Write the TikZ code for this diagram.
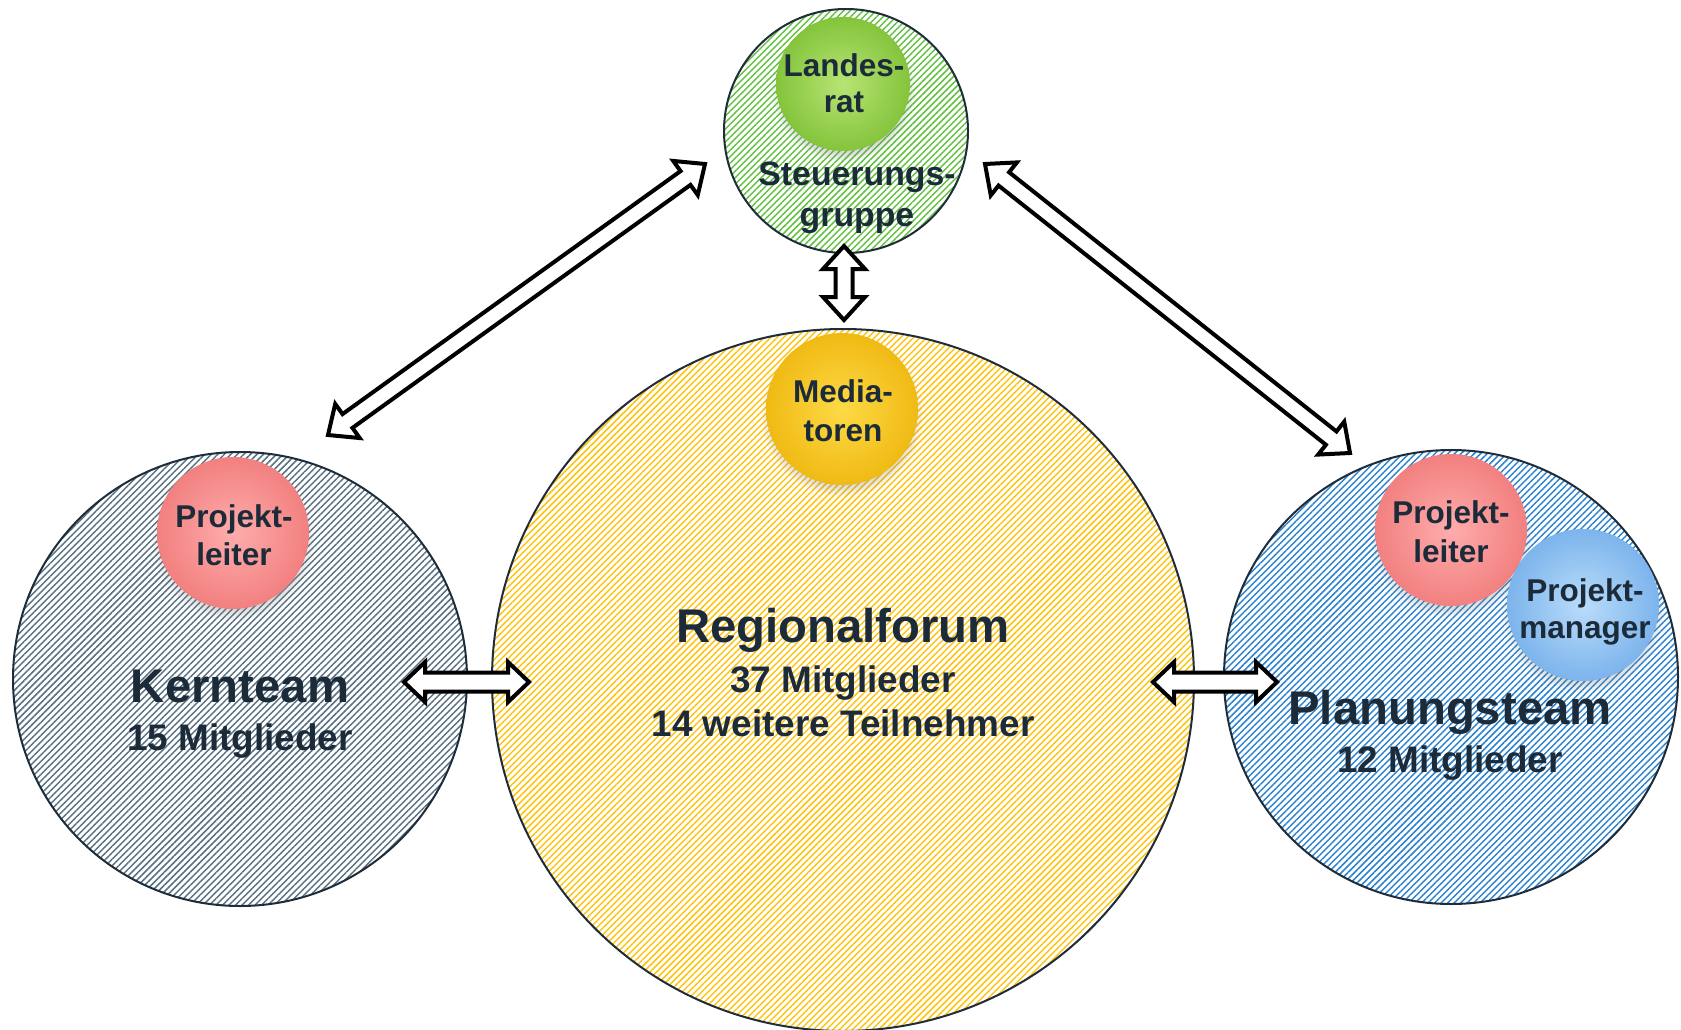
\documentclass[tikz,border=0pt]{standalone}
\usepackage{fontspec}
\setmainfont{Liberation Sans}
\usetikzlibrary{calc,patterns.meta,shadows,fadings}
\definecolor{txt}{HTML}{1C2B39}
\definecolor{edge}{HTML}{1F2D3A}
\definecolor{kernS}{HTML}{587080}
\definecolor{regS}{HTML}{FFC20E}
\definecolor{planS}{HTML}{2C82CC}
\definecolor{steuS}{HTML}{62C040}
\newcommand\dblarrow[5]{%
  \draw[blockarrow] (#1)
    -- ($(#1)!#3!(#2)!#4!90:(#2)$) -- ($(#1)!#3!(#2)!#5!90:(#2)$)
    -- ($(#2)!#3!(#1)!#5!-90:(#1)$) -- ($(#2)!#3!(#1)!#4!-90:(#1)$)
    -- (#2)
    -- ($(#2)!#3!(#1)!#4!90:(#1)$) -- ($(#2)!#3!(#1)!#5!90:(#1)$)
    -- ($(#1)!#3!(#2)!#5!-90:(#2)$) -- ($(#1)!#3!(#2)!#4!-90:(#2)$)
    -- cycle;}
\tikzset{
  group/.style={circle, draw=edge, line width=2pt, inner sep=0pt, minimum size=#1},
  hatch/.style={pattern={Lines[angle=45,distance=4.6pt,line width=1.45pt]}, pattern color=#1},
  bubble/.style={circle, inner sep=0pt, minimum size=#1,
    circular drop shadow={shadow xshift=0pt, shadow yshift=-6pt, shadow scale=1.07, opacity=0.3}},
  blockarrow/.style={draw=black, fill=white, line width=4pt, line join=miter},
  lbl/.style={anchor=base, inner sep=0pt, text=txt, font=\bfseries\fontsize{31.5}{36}\selectfont},
  big/.style={lbl, font=\bfseries\fontsize{47.3}{52}\selectfont},
  mid/.style={lbl, font=\bfseries\fontsize{36.9}{42}\selectfont},
  steu/.style={lbl, font=\bfseries\fontsize{33.8}{40}\selectfont},
}
\begin{document}
\begin{tikzpicture}[x=1pt,y=1pt]
\useasboundingbox (0,0) rectangle (1681,-1030);
% groups
\node[group=454pt, hatch=kernS] (kern) at (240,-679) {};
\node[group=702pt, hatch=regS] (reg) at (843,-680) {};
\node[group=454pt, hatch=planS] (plan) at (1451,-677) {};
\node[group=244pt, hatch=steuS] (steu) at (846,-131) {};
% bubbles
\node[bubble=134pt, inner color={rgb,255:red,184;green,228;blue,116}, outer color={rgb,255:red,132;green,196;blue,60}] (landes) at (843,-84) {};
\node[bubble=152pt, inner color={rgb,255:red,253;green,218;blue,70}, outer color={rgb,255:red,240;green,186;blue,20}] (media) at (842,-409) {};
\node[bubble=152pt, inner color={rgb,255:red,255;green,172;blue,172}, outer color={rgb,255:red,242;green,128;blue,128}] (pl1) at (233,-533) {};
\node[bubble=152pt, inner color={rgb,255:red,255;green,172;blue,172}, outer color={rgb,255:red,242;green,128;blue,128}] (pl2) at (1451,-530) {};
\node[bubble=152pt, inner color={rgb,255:red,186;green,220;blue,250}, outer color={rgb,255:red,124;green,180;blue,236}] (pm) at (1583,-605) {};
% texts
\node[lbl] (t1) at (844,-77) {Landes-};
\node[lbl] (t2) at (844,-113) {rat};
\node[steu] (t3) at (857,-185) {Steuerungs-};
\node[steu] (t4) at (857,-226) {gruppe};
\node[lbl] (t5) at (843,-402) {Media-};
\node[lbl] (t6) at (843,-441) {toren};
\node[big] (t7) at (843,-642) {Regionalforum};
\node[mid] (t8) at (843,-692) {37 Mitglieder};
\node[mid] (t9) at (843,-736) {14 weitere Teilnehmer};
\node[lbl] (t10) at (234,-527) {Projekt-};
\node[lbl] (t11) at (234,-565) {leiter};
\node[big] (t12) at (240,-702) {Kernteam};
\node[mid] (t13) at (240,-750) {15 Mitglieder};
\node[lbl] (t14) at (1451,-523) {Projekt-};
\node[lbl] (t15) at (1451,-562) {leiter};
\node[lbl] (t16) at (1585,-601) {Projekt-};
\node[lbl] (t17) at (1585,-638) {manager};
\node[big] (t18) at (1450,-724) {Planungsteam};
\node[mid] (t19) at (1450,-772) {12 Mitglieder};
% arrow end points
\coordinate (a1) at (328,-435);
\coordinate (a2) at (705,-164);
\coordinate (b1) at (985,-164);
\coordinate (b2) at (1350,-453);
\coordinate (c1) at (844,-246);
\coordinate (c2) at (844,-320);
\coordinate (d1) at (404,-682);
\coordinate (d2) at (529,-682);
\coordinate (e1) at (1153,-682);
\coordinate (e2) at (1277,-682);
% arrows
\dblarrow{a1}{a2}{24pt}{21pt}{8.5pt}
\dblarrow{b1}{b2}{24pt}{21pt}{8.5pt}
\dblarrow{c1}{c2}{23pt}{21pt}{8.5pt}
\dblarrow{d1}{d2}{21pt}{20pt}{9.5pt}
\dblarrow{e1}{e2}{21pt}{20pt}{9.5pt}
\end{tikzpicture}
\end{document}
